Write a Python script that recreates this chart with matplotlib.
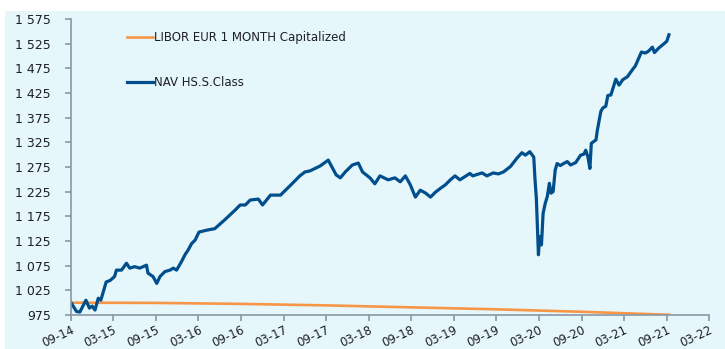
import matplotlib
matplotlib.use("Agg")
import matplotlib.pyplot as plt
import matplotlib.dates as mdates
import matplotlib.ticker as mticker
from matplotlib.patches import Rectangle
import pandas as pd

# NAV of the share class (base 1000)
nav_dates = [
    "2014-09-01", "2014-09-25", "2014-10-09", "2014-11-04", "2014-11-19", "2014-12-01",
    "2014-12-13", "2014-12-27", "2015-01-07", "2015-01-30", "2015-02-16", "2015-03-07",
    "2015-03-15", "2015-04-06", "2015-04-27", "2015-05-11", "2015-06-01", "2015-06-23",
    "2015-07-22", "2015-07-28", "2015-08-19", "2015-09-04", "2015-09-18", "2015-10-09",
    "2015-10-31", "2015-11-14", "2015-11-28", "2015-12-19", "2016-01-03", "2016-01-17",
    "2016-02-01", "2016-02-16", "2016-03-03", "2016-04-06", "2016-05-10", "2016-06-22",
    "2016-08-06", "2016-08-27", "2016-09-18", "2016-10-09", "2016-11-13", "2016-12-01",
    "2017-01-04", "2017-02-16", "2017-03-29", "2017-05-10", "2017-06-01", "2017-06-22",
    "2017-08-05", "2017-09-09", "2017-09-27", "2017-10-13", "2017-10-31", "2017-11-21",
    "2017-12-21", "2018-01-16", "2018-02-03", "2018-03-07", "2018-03-28", "2018-04-19",
    "2018-05-24", "2018-06-22", "2018-07-15", "2018-08-06", "2018-08-27", "2018-09-18",
    "2018-10-09", "2018-11-01", "2018-11-22", "2018-12-13", "2019-01-04", "2019-01-25",
    "2019-02-15", "2019-03-07", "2019-03-28", "2019-05-10", "2019-05-22", "2019-07-01",
    "2019-07-22", "2019-08-18", "2019-09-09", "2019-10-01", "2019-10-31", "2019-11-28",
    "2019-12-19", "2020-01-03", "2020-01-22", "2020-02-08", "2020-02-13", "2020-02-19",
    "2020-02-28", "2020-03-04", "2020-03-12", "2020-03-19", "2020-03-28", "2020-04-06",
    "2020-04-15", "2020-04-22", "2020-05-01", "2020-05-10", "2020-05-18", "2020-06-01",
    "2020-06-15", "2020-07-01", "2020-07-15", "2020-08-06", "2020-08-27", "2020-09-10",
    "2020-09-18", "2020-09-27", "2020-10-06", "2020-10-12", "2020-11-01", "2020-11-07",
    "2020-11-22", "2020-12-01", "2020-12-13", "2020-12-22", "2021-01-04", "2021-01-25",
    "2021-02-08", "2021-02-24", "2021-03-16", "2021-04-06", "2021-04-19", "2021-05-03",
    "2021-05-15", "2021-06-01", "2021-06-15", "2021-07-01", "2021-07-10", "2021-07-28",
    "2021-08-20", "2021-09-01", "2021-09-10",
]
nav_values = [
    1000, 982, 981, 1005, 989, 993,
    985, 1009, 1005, 1042, 1045, 1053,
    1066, 1066, 1080, 1070, 1073, 1070,
    1076, 1060, 1053, 1039, 1053, 1063,
    1066, 1070, 1066, 1083, 1097, 1107,
    1120, 1127, 1143, 1147, 1150, 1168,
    1188, 1198, 1198, 1208, 1210, 1198,
    1218, 1218, 1237, 1257, 1265, 1267,
    1277, 1289, 1273, 1259, 1253, 1265,
    1279, 1283, 1265, 1253, 1241, 1257,
    1249, 1253, 1245, 1257, 1239, 1214,
    1228, 1222, 1214, 1224, 1232, 1239,
    1249, 1257, 1249, 1262, 1257, 1263,
    1257, 1263, 1261, 1265, 1276, 1293,
    1304, 1299, 1306, 1295, 1252, 1212,
    1097, 1134, 1117, 1181, 1201, 1215,
    1242, 1222, 1225, 1269, 1282, 1278,
    1282, 1286, 1279, 1284, 1299, 1301,
    1309, 1296, 1272, 1323, 1330, 1350,
    1388, 1395, 1398, 1420, 1421, 1453,
    1441, 1452, 1458, 1472, 1480, 1495,
    1508, 1506, 1510, 1518, 1507, 1516,
    1525, 1530, 1543,
]

# capitalized 1M EUR LIBOR (base 1000)
libor_dates = ["2014-09-01", "2015-09-01", "2016-09-01", "2017-09-01",
               "2018-09-01", "2019-09-01", "2020-09-01", "2021-09-10"]
libor_values = [1000, 999.5, 997.5, 994.5, 990.5, 986.5, 981.5, 975.5]

bg = "#E6F7FC"
txt = "#1E1E28"
spine = "#8A98A6"

fig = plt.figure(figsize=(7.25, 3.49), dpi=100, facecolor="white")
fig.patches.append(Rectangle((5 / 725, 0), 1, 338 / 349, transform=fig.transFigure,
                             facecolor=bg, edgecolor="none", zorder=-10))
ax = fig.add_axes([71 / 725, 1 - 315 / 349, 638 / 725, 296 / 349])
ax.set_facecolor(bg)

ax.plot(pd.to_datetime(libor_dates), libor_values, color="#F79646", lw=1.9,
        label="LIBOR EUR 1 MONTH Capitalized")
ax.plot(pd.to_datetime(nav_dates), nav_values, color="#004F8C", lw=2.3,
        label="NAV HS.S.Class", solid_joinstyle="round")

ax.set_ylim(975, 1575)
ax.set_yticks(range(975, 1576, 50))
ax.yaxis.set_major_formatter(mticker.FuncFormatter(lambda v, p: f"{int(v):,}".replace(",", " ")))
ax.set_xlim(pd.Timestamp("2014-09-01"), pd.Timestamp("2022-03-01"))
ax.xaxis.set_major_locator(mdates.MonthLocator(bymonth=[3, 9]))
ax.xaxis.set_major_formatter(mdates.DateFormatter("%m-%y"))

for s in ["top", "right"]:
    ax.spines[s].set_visible(False)
for s in ["left", "bottom"]:
    ax.spines[s].set_color(spine)
    ax.spines[s].set_linewidth(1.2)
ax.tick_params(axis="both", colors=spine, length=4.5, width=1.2, labelcolor=txt, labelsize=9)
ax.tick_params(axis="y", pad=10)
ax.tick_params(axis="x", pad=1.5, labelsize=8.5)
for lab in ax.get_xticklabels():
    lab.set_rotation(25)
    lab.set_ha("right")
    lab.set_rotation_mode("anchor")

ax.legend(loc="upper left", bbox_to_anchor=(127 / 725, 1 - 31 / 349),
          bbox_transform=fig.transFigure, frameon=False, fontsize=8.5,
          handlelength=2.2, handletextpad=0.1, labelspacing=2.75,
          borderpad=0, borderaxespad=0, labelcolor=txt)

fig.savefig("out.png", dpi=100, facecolor="white")
